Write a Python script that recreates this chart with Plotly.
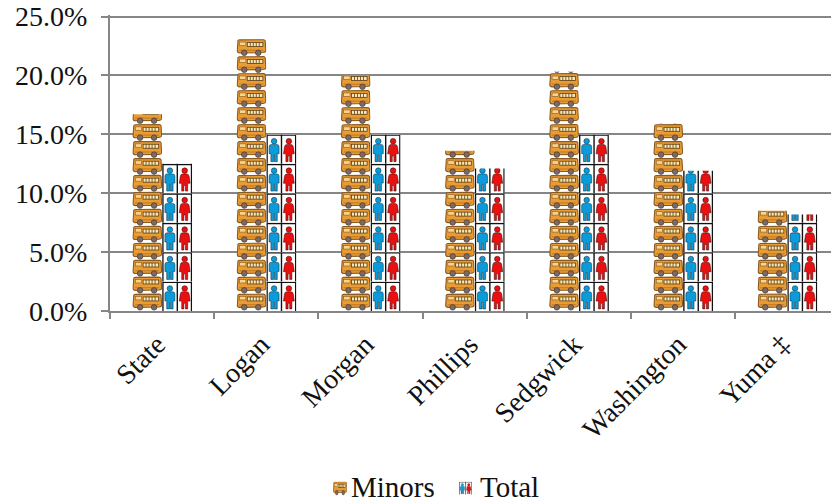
import base64
import plotly.graph_objects as go

categories = ["State", "Logan", "Morgan", "Phillips", "Sedgwick", "Washington", "Yuma ‡"]
minors = [16.7, 23.1, 20.0, 13.6, 20.3, 15.9, 8.5]
total = [12.5, 15.0, 15.0, 12.1, 15.0, 11.9, 8.2]
y_ticks = [0, 5, 10, 15, 20, 25]
y_labels = ["0.0%", "5.0%", "10.0%", "15.0%", "20.0%", "25.0%"]

BUS_UNIT = 1.44
PERSON_UNIT = 2.5
FONT = "Liberation Serif"
GREY = "#868686"

BUS = (
    '<g transform="translate(0,-.7)">'
    '<path d="M1.6 3.2Q1.2 1 3.4 1L27 .8Q29.4 1 29 3.6L29.6 11.8Q29.4 13.6 27 13.7L3.4 14.1Q1 14 1 12Z" '
    'fill="#E99B34" stroke="#8A5A20" stroke-width="1.1"/>'
    '<rect x="3.2" y="3.2" width="6.4" height="3.4" fill="#F7D58E" stroke="#8A5A20" stroke-width=".6"/>'
    '<rect x="11" y="3.6" width="15.6" height="4" fill="#F8E8B6" stroke="#5E3D12" stroke-width=".8"/>'
    '<path d="M14 3.6V7.6M17 3.6V7.6M20 3.6V7.6M23 3.6V7.6" stroke="#5E3D12" stroke-width=".8"/>'
    '<path d="M3 11.4H27" stroke="#B5701F" stroke-width=".8"/>'
    '<circle cx="8" cy="14" r="2.8" fill="#7D6A62" stroke="#4B3A30" stroke-width=".7"/>'
    '<circle cx="22" cy="14" r="2.8" fill="#7D6A62" stroke="#4B3A30" stroke-width=".7"/>'
    '</g>'
)
PERSON = (
    '<rect width="30" height="29.5" fill="#fff"/>'
    '<path d="M.8 29.5V.8H29.4V29.5M15.2 .8V29.5" fill="none" stroke="#111" stroke-width="1.4"/>'
    '<circle cx="7.8" cy="6.9" r="2.8" fill="#0A9BD8" stroke="#123" stroke-width=".5"/>'
    '<path d="M5 10.2H10.6Q12.8 10.2 12.8 12.4V19.4H11V27.4H8.2V20.6H7.4V27.4H4.6V19.4H2.8V12.4Q2.8 10.2 5 10.2Z" '
    'fill="#0A9BD8" stroke="#123" stroke-width=".5"/>'
    '<circle cx="22.6" cy="6.9" r="2.8" fill="#E81010" stroke="#300" stroke-width=".5"/>'
    '<path d="M20.4 10.2H24.8Q26.8 10.4 27 12.4L28 19.6H25.6V27.4H23.4V21.8H21.8V27.4H19.6V19.6H17.2L18.2 12.4Q18.4 10.4 20.4 10.2Z" '
    'fill="#E81010" stroke="#300" stroke-width=".5"/>'
)


def uri(svg):
    return "data:image/svg+xml;base64," + base64.b64encode(svg.encode()).decode()


def stacked(art, unit_h, value, unit):
    """Repeat a pictogram bottom-up for `value`, cropping the last one."""
    h = value / unit * unit_h
    n = int(value / unit) + 1
    body = "".join(
        f'<g transform="translate(0,{-(k + 1) * unit_h:.3f})">{art}</g>' for k in range(n)
    )
    return uri(
        f'<svg xmlns="http://www.w3.org/2000/svg" width="30" height="{h:.2f}" '
        f'viewBox="0 {-h:.3f} 30 {h:.3f}" preserveAspectRatio="none">{body}</svg>'
    )


def icon(art, w, h):
    return uri(
        f'<svg xmlns="http://www.w3.org/2000/svg" width="{w}" height="{h}" '
        f'viewBox="0 0 {w} {h}">{art}</svg>'
    )


fig = go.Figure()
clear = "rgba(0,0,0,0)"
fig.add_bar(x=categories, y=minors, name="Minors", marker=dict(color=clear, line_width=0))
fig.add_bar(x=categories, y=total, name="Total", marker=dict(color=clear, line_width=0))

BAR = 0.288
images = []
for i, (m, t) in enumerate(zip(minors, total)):
    images.append(dict(source=stacked(BUS, 17.0, m, BUS_UNIT), xref="x", yref="y", x=i - BAR, y=m,
                       sizex=BAR, sizey=m, xanchor="left", yanchor="top",
                       sizing="stretch", layer="above"))
    images.append(dict(source=stacked(PERSON, 29.5, t, PERSON_UNIT), xref="x", yref="y", x=i, y=t,
                       sizex=BAR, sizey=t, xanchor="left", yanchor="top",
                       sizing="stretch", layer="above"))

# Plot area: 295 px for 0-25 %, plus 1.5 px headroom so that the 25 % gridline is drawn.
PW, PH, L, B = 721, 296.5, 110, 311
for art, w, h, px, py, sw, sh in [(BUS, 30, 17, 333, 482, 14, 14), (PERSON, 30, 29.5, 459, 482, 13, 13)]:
    images.append(dict(source=icon(art, w, h), xref="paper", yref="paper",
                       x=(px - L) / PW, y=(B - py) / PH, sizex=sw / PW, sizey=sh / PH,
                       xanchor="left", yanchor="top", sizing="stretch", layer="above"))

fig.update_layout(
    width=831, height=502,
    margin=dict(l=L, r=0, t=14.5, b=191, autoexpand=False),
    paper_bgcolor="white", plot_bgcolor="white",
    barmode="group", bargap=0.423, bargroupgap=0,
    font=dict(family=FONT, size=28, color="#111"),
    images=images,
    showlegend=True,
    legend=dict(orientation="h", xref="paper", yref="paper",
                x=(311 - L) / PW, y=(B - 461) / PH, xanchor="left", yanchor="top",
                font=dict(family=FONT, size=29, color="#111"), bgcolor=clear,
                entrywidth=84, entrywidthmode="pixels",
                itemclick=False, itemdoubleclick=False),
    xaxis=dict(type="category", range=[-0.5, 6.42], tickson="boundaries", tickangle=-45,
               tickmode="array", tickvals=categories, ticktext=[c + "\u00a0" for c in categories],
               showline=True, linecolor=GREY, linewidth=2, ticks="outside", tickcolor=GREY,
               tickwidth=2, ticklen=6, showgrid=False, automargin=False, ticklabelstandoff=-1),
    yaxis=dict(range=[0, 25 + 1.5 / 11.8], tickmode="array", tickvals=y_ticks, ticktext=y_labels,
               showline=True,
               linecolor=GREY, linewidth=2, ticks="outside", tickcolor=GREY, tickwidth=2,
               ticklen=7, showgrid=True, gridcolor=GREY, gridwidth=2, zeroline=False,
               automargin=False, ticklabelstandoff=8),
)
fig.write_html("out.html", config={"displayModeBar": False},
               post_script="document.body.style.margin='0';")
